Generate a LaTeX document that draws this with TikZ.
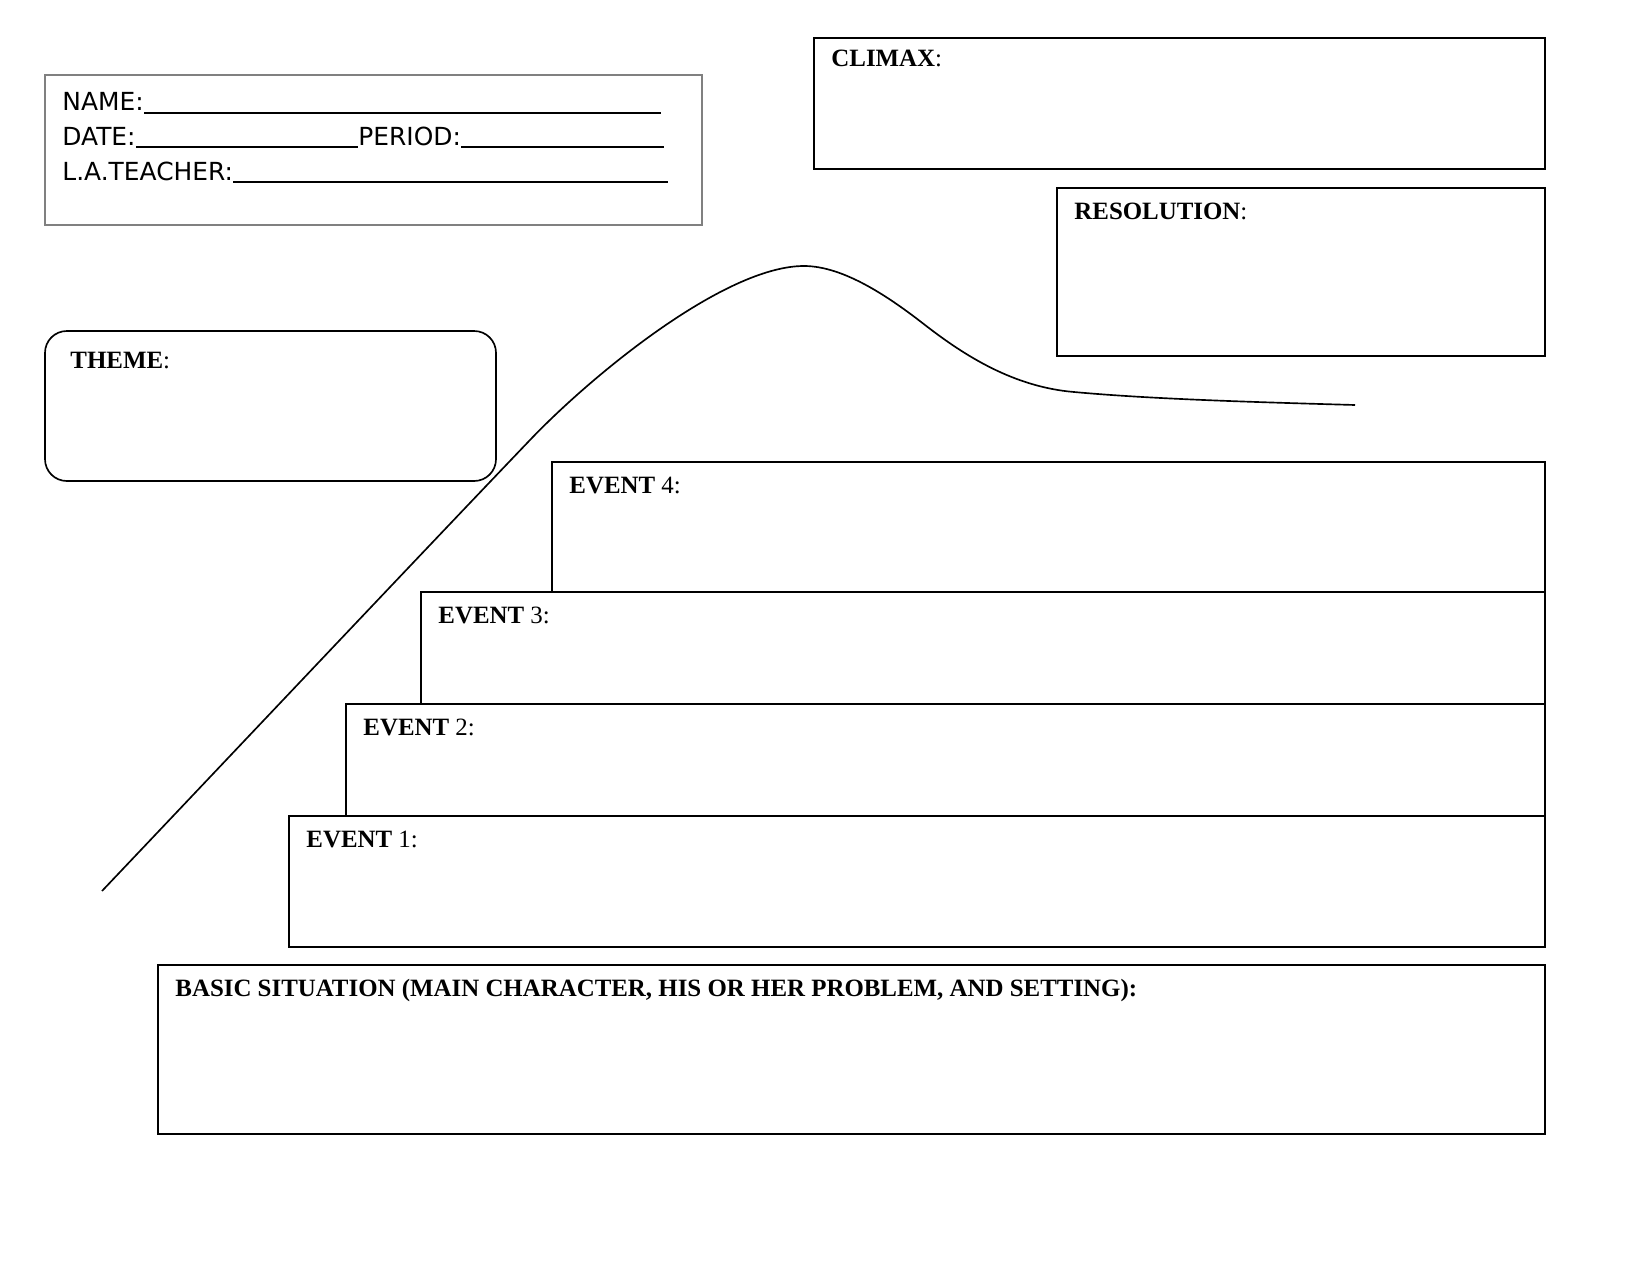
\documentclass[tikz,border=0pt]{standalone}
\usepackage{fontspec}
\setmainfont{Liberation Serif}
\newfontfamily\handfont{DejaVu Sans}

\begin{document}
\begin{tikzpicture}[x=0.016933cm,y=-0.016933cm,
		box/.style={draw=black,line width=0.8pt},
		lbl/.style={anchor=base west,inner sep=0pt,font=\fontsize{12}{14}\selectfont},
		info/.style={anchor=base west,inner sep=0pt,font=\handfont\fontsize{12}{14}\selectfont},
		uline/.style={line width=0.7pt},
		plotline/.style={line width=0.8pt}]
		\useasboundingbox (0,0) rectangle (1650,1275);
		% student info
		\draw[draw=gray,line width=0.5pt] (45,75) rectangle (702,225);
		\node[info] (name) at (62,111) {NAME:};
		\node[info] (date) at (62,145) {DATE:};
		\node[info] (period) at (358,145) {PERIOD:};
		\node[info] (teacher) at (62,180) {L.A.TEACHER:};
		\coordinate (nameend) at (661,113);
		\coordinate (dateend) at (358,147);
		\coordinate (periodend) at (664,147);
		\coordinate (teacherend) at (668,182);
		\draw[uline] (name.base east |- nameend) -- (nameend);
		\draw[uline] (date.base east |- dateend) -- (dateend);
		\draw[uline] (period.base east |- periodend) -- (periodend);
		\draw[uline,line width=1.1pt] (teacher.base east |- teacherend) -- (teacherend);
		% top boxes
		\draw[box] (814,38) rectangle (1545,169);
		\node[lbl] (climax) at (831,67) {\textbf{CLIMAX}:};
		\draw[box] (1057,188) rectangle (1545,356);
		\node[lbl] (resolution) at (1074,219) {\textbf{RESOLUTION}:};
		\draw[box,rounded corners=0.37cm] (45,331) rectangle (496,481);
		\node[lbl] (theme) at (70,368) {\textbf{THEME}:};
		% events
		\foreach \n/\l/\t/\b in {4/552/462/592,3/421/592/704,2/346/704/816,1/289/816/947}{
			\draw[box] (\l,\t) rectangle (1545,\b);
			\node[lbl] (ev\n) at (\l+17,\t+31) {\textbf{EVENT} \n:};
		}
		\draw[box] (158,965) rectangle (1545,1134);
		\node[lbl] (basic) at (175,996) {\textbf{BASIC SITUATION (MAIN CHARACTER, HIS OR HER PROBLEM, AND SETTING):}};
		% plot line
		\draw[plotline] (102,891) .. controls (250,735) and (420,555) .. (530,440)
			.. controls (590,377) and (724,266) .. (804,266)
			.. controls (844,266) and (890,297.7) .. (925,325)
			.. controls (965,356) and (1014,387) .. (1074,392)
			.. controls (1150,399) and (1250,402) .. (1355,405);
	\end{tikzpicture}
\end{document}
